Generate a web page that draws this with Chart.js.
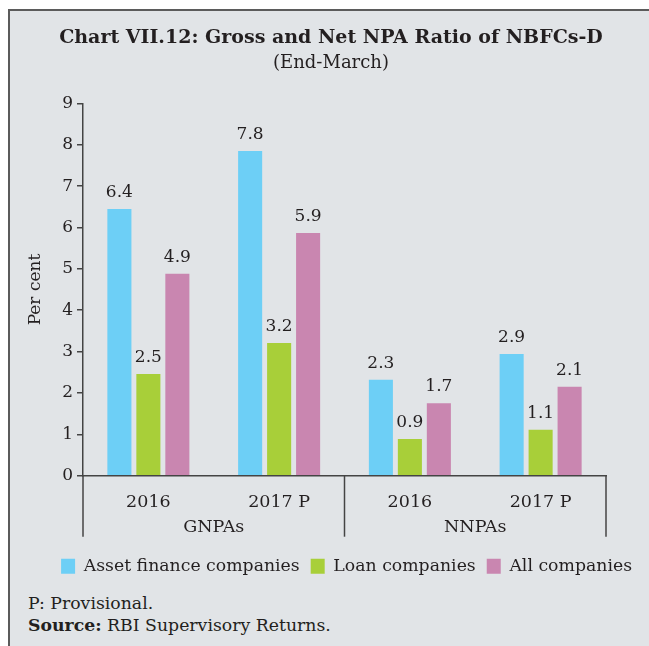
<!DOCTYPE html>
<html>
<head>
<meta charset="utf-8">
<script src="https://cdn.jsdelivr.net/npm/chart.js@4.4.1/dist/chart.umd.min.js"></script>
<style>
  html, body { margin: 0; background: #fff; overflow: hidden; width: 649px; height: 646px; }
  #frame {
    position: absolute; left: 8px; top: 9px; right: 0; bottom: 0;
    background: #e1e4e7; border-left: 2px solid #5b5b5b; border-top: 2px solid #5b5b5b;
  }
  #chart { position: absolute; left: 0; top: 0; }
  .note {
    position: absolute; left: 28px; font-family: "DejaVu Serif", serif;
    font-size: 17.3px; color: #231f20; line-height: 20px; white-space: nowrap;
  }
</style>
</head>
<body>
<div id="frame"></div>
<canvas id="chart" width="649" height="590"></canvas>
<div class="note" style="top:593px">P: Provisional.</div>
<div class="note" style="top:615px"><b>Source:</b> RBI Supervisory Returns.</div>
<script>
// ---- datos ----
const categorias = ['2016', '2017 P', '2016', '2017 P'];
const grupos = ['GNPAs', 'NNPAs'];
const assetFinance = [6.45, 7.85, 2.32, 2.94];
const loanCos = [2.46, 3.21, 0.89, 1.11];
const allCos = [4.88, 5.87, 1.75, 2.15];
// etiquetas tal como aparecen sobre las barras
const lblAsset = ['6.4', '7.8', '2.3', '2.9'];
const lblLoan = ['2.5', '3.2', '0.9', '1.1'];
const lblAll = ['4.9', '5.9', '1.7', '2.1'];
const yTicks = [0, 1, 2, 3, 4, 5, 6, 7, 8, 9];

const FONT = 'DejaVu Serif';
const TXT = '#231f20';
const AXIS = '#444';

// Etiquetas encima de cada barra
const barLabels = {
  id: 'barLabels',
  afterDatasetsDraw(chart) {
    const ctx = chart.ctx;
    ctx.save();
    ctx.font = `17px "${FONT}"`;
    ctx.fillStyle = TXT;
    ctx.textAlign = 'center';
    ctx.textBaseline = 'alphabetic';
    chart.data.datasets.forEach((ds, i) => {
      chart.getDatasetMeta(i).data.forEach((bar, j) => {
        ctx.fillText(ds.etiquetas[j], bar.x, bar.y - 12);
      });
    });
    ctx.restore();
  }
};

// Segundo nivel del eje X (GNPAs / NNPAs) con separadores
const grupoEjeX = {
  id: 'grupoEjeX',
  afterDraw(chart) {
    const xs = chart.scales.x;
    const ctx = chart.ctx;
    const top = chart.chartArea.bottom;
    const bottom = top + 61;
    const mid = (xs.getPixelForValue(1) + xs.getPixelForValue(2)) / 2;
    ctx.save();
    ctx.strokeStyle = AXIS;
    ctx.lineWidth = 1.5;
    [xs.left, mid, xs.right].forEach(x => {
      ctx.beginPath();
      ctx.moveTo(x, top);
      ctx.lineTo(x, bottom);
      ctx.stroke();
    });
    ctx.font = `17.5px "${FONT}"`;
    ctx.fillStyle = TXT;
    ctx.textAlign = 'center';
    ctx.textBaseline = 'middle';
    ctx.fillText(grupos[0], (xs.getPixelForValue(0) + xs.getPixelForValue(1)) / 2, top + 52);
    ctx.fillText(grupos[1], (xs.getPixelForValue(2) + xs.getPixelForValue(3)) / 2, top + 52);
    ctx.restore();
  }
};

const ctx = document.getElementById('chart').getContext('2d');
const chart = new Chart(ctx, {
  type: 'bar',
  data: {
    labels: categorias,
    datasets: [
      { label: 'Asset finance companies', data: assetFinance, etiquetas: lblAsset, backgroundColor: '#6dcff6' },
      { label: 'Loan companies', data: loanCos, etiquetas: lblLoan, backgroundColor: '#a8cf39' },
      { label: 'All companies', data: allCos, etiquetas: lblAll, backgroundColor: '#c986b0' }
    ]
  },
  options: {
    responsive: false,
    animation: false,
    categoryPercentage: 0.665,
    barPercentage: 0.83,
    layout: { padding: { top: 10, left: 19, right: 6, bottom: 5 } },
    plugins: {
      title: {
        display: true,
        text: 'Chart VII.12: Gross and Net NPA Ratio of NBFCs-D',
        color: TXT,
        font: { family: FONT, size: 19, weight: 'bold' },
        padding: { top: 17, bottom: 3 }
      },
      subtitle: {
        display: true,
        text: '(End-March)',
        color: TXT,
        font: { family: FONT, size: 18 },
        padding: { top: 0, bottom: 29 }
      },
      legend: {
        position: 'bottom',
        align: 'end',
        labels: {
          boxWidth: 14,
          boxHeight: 15,
          padding: 11,
          color: TXT,
          font: { family: FONT, size: 17.3 }
        }
      },
      tooltip: { enabled: false }
    },
    scales: {
      x: {
        grid: { display: false },
        border: { display: true, color: AXIS, width: 1.5 },
        ticks: { color: TXT, padding: 8, font: { family: FONT, size: 17.5 } },
        afterFit: s => { s.height = 71; }
      },
      y: {
        min: 0,
        max: 9,
        afterBuildTicks: s => { s.ticks = yTicks.map(v => ({ value: v })); },
        grid: { drawOnChartArea: false, drawTicks: true, tickLength: 6, color: AXIS, lineWidth: 1.5 },
        border: { display: true, color: AXIS, width: 1.5 },
        ticks: { color: TXT, padding: 4, font: { family: FONT, size: 17 } },
        title: {
          display: true,
          text: 'Per cent',
          color: TXT,
          font: { family: FONT, size: 17 },
          padding: { top: 6, bottom: 0 }
        },
        afterFit: s => { s.width = 64; }
      },
      derecha: {
        type: 'linear',
        position: 'right',
        grid: { display: false },
        border: { display: false },
        ticks: { display: false },
        afterFit: s => { s.width = 37; }
      }
    }
  },
  plugins: [barLabels, grupoEjeX]
});
</script>
</body>
</html>
